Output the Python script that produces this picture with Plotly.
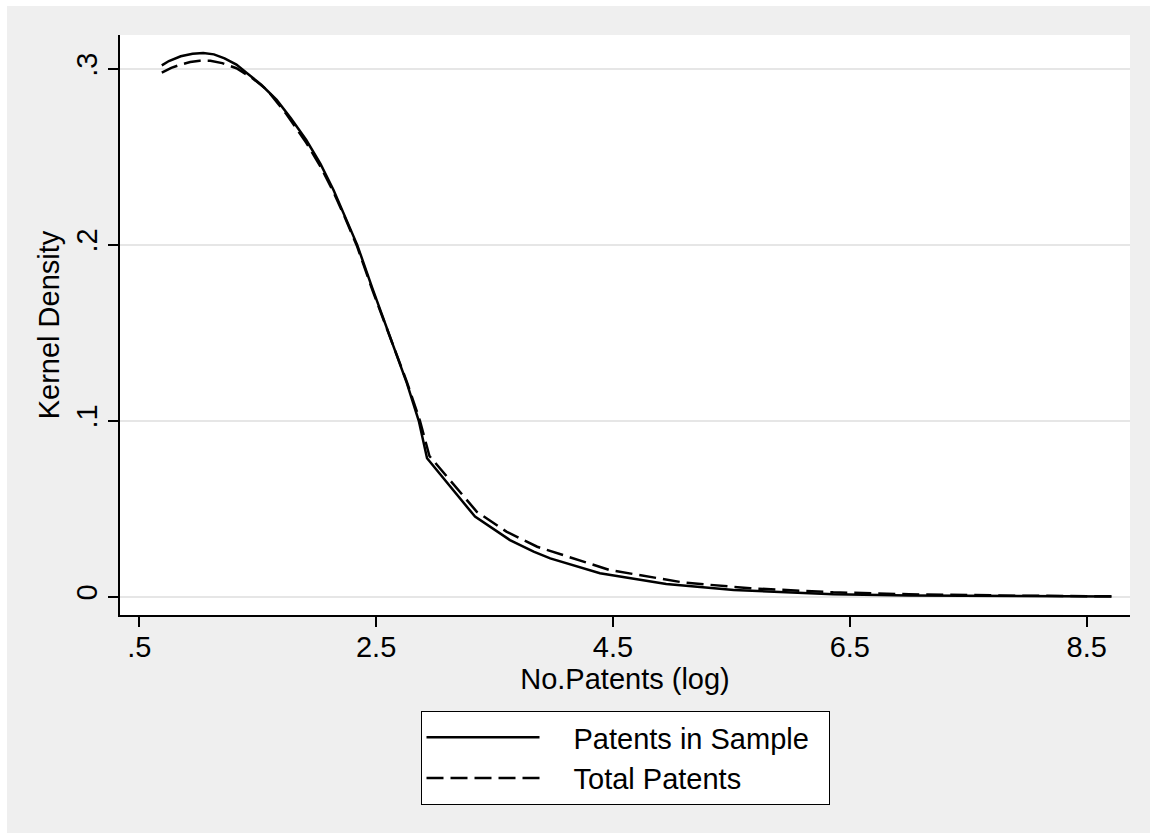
import plotly.graph_objects as go

# Data (kernel density estimates)
x_sample = [0.69, 0.75, 0.85, 0.95, 1.04, 1.13, 1.22, 1.32, 1.41, 1.53, 1.66, 1.78, 1.91, 2.03,
            2.14, 2.24, 2.34, 2.47, 2.61, 2.76, 2.86, 2.93,
            3.335, 3.63, 3.83, 3.97, 4.39, 4.95, 5.52, 6.36, 7.0, 7.8, 8.71]
y_sample = [0.302, 0.3045, 0.3072, 0.3086, 0.309, 0.3083, 0.306, 0.3025, 0.2976, 0.291, 0.2824,
            0.272, 0.2596, 0.246, 0.2312, 0.216, 0.200, 0.175, 0.149,
            0.1213, 0.100, 0.0787, 0.0455, 0.0322, 0.0256, 0.0218, 0.0133, 0.0072, 0.0038,
            0.0014, 0.0007, 0.0003, 0.0001]

x_total = [0.69, 0.77, 0.85, 0.93, 1.01, 1.10, 1.20, 1.32, 1.45, 1.58, 1.74, 1.91, 2.03, 2.14,
           2.24, 2.34, 2.47, 2.61, 2.76, 2.87, 2.95,
           3.35, 3.60, 3.86, 4.47, 5.10, 5.66, 6.36, 7.0, 7.9, 8.71]
y_total = [0.2979, 0.3006, 0.3025, 0.3039, 0.3047, 0.3047, 0.3033, 0.3004, 0.295, 0.288, 0.2745,
           0.258, 0.2445, 0.230, 0.215, 0.199, 0.174, 0.149, 0.122, 0.100, 0.080,
           0.0483, 0.0370, 0.0284, 0.0152, 0.0080, 0.0048, 0.0025, 0.0014, 0.0006, 0.0002]

series_names = ["Patents in Sample", "Total Patents"]
x_ticks = [0.5, 2.5, 4.5, 6.5, 8.5]
x_ticklabels = [".5", "2.5", "4.5", "6.5", "8.5"]
y_ticks = [0, 0.1, 0.2, 0.3]
y_ticklabels = ["0", ".1", ".2", ".3"]

FONT = "Liberation Sans, Arial, sans-serif"
FS = 29
W, H = 1157, 839
L, R, T, B = 120, 27, 35, 224
pw, ph = W - L - R, H - T - B
PAD = "\u2002\u2002"  # gap between legend key and label, as in the reference

fig = go.Figure()
fig.add_trace(go.Scatter(x=x_sample, y=y_sample, mode="lines", name=PAD + series_names[0] + "\u2002",
                         line=dict(color="black", width=2.5)))
fig.add_trace(go.Scatter(x=x_total, y=y_total, mode="lines", name=PAD + series_names[1],
                         line=dict(color="black", width=2.5, dash="17px,7px")))

# outer gray graph region and white plot region
fig.add_shape(type="rect", xref="paper", yref="paper", layer="below",
              x0=(7 - L) / pw, x1=(1150 - L) / pw, y0=(T + ph - 833) / ph, y1=(T + ph - 6) / ph,
              fillcolor="#efefef", line=dict(width=0))
fig.add_shape(type="rect", xref="paper", yref="paper", layer="below",
              x0=0, x1=1, y0=0, y1=1, fillcolor="white", line=dict(width=0))

fig.update_layout(
    width=W, height=H,
    margin=dict(l=L, r=R, t=T, b=B),
    paper_bgcolor="white", plot_bgcolor="rgba(0,0,0,0)",
    font=dict(family=FONT, size=FS, color="black"),
    showlegend=True,
    legend=dict(x=0.5, xanchor="center", y=(T + ph - 711) / ph, yanchor="top",
                bgcolor="white", bordercolor="black", borderwidth=1,
                font=dict(family=FONT, size=FS, color="black"),
                itemwidth=113, tracegroupgap=0),
    xaxis=dict(range=[0.337, 8.866], tickmode="array", tickvals=x_ticks, ticktext=x_ticklabels,
               showgrid=False, zeroline=False, showline=True, linecolor="black", linewidth=1.5,
               ticks="outside", ticklen=10, tickwidth=1.5, tickcolor="black",
               ticklabelstandoff=-5,
               title=dict(text="No.Patents (log)", font=dict(size=FS), standoff=0)),
    yaxis=dict(range=[-0.0104, 0.3193], tickmode="array", tickvals=y_ticks, ticktext=y_ticklabels,
               tickangle=-90, showgrid=True, gridcolor="#e6e6e6", gridwidth=2,
               zeroline=False, showline=True, linecolor="black", linewidth=1.5,
               ticks="outside", ticklen=10, tickwidth=1.5, tickcolor="black",
               title=dict(text="Kernel Density", font=dict(size=FS), standoff=3)),
)

fig.write_html("out.html")
